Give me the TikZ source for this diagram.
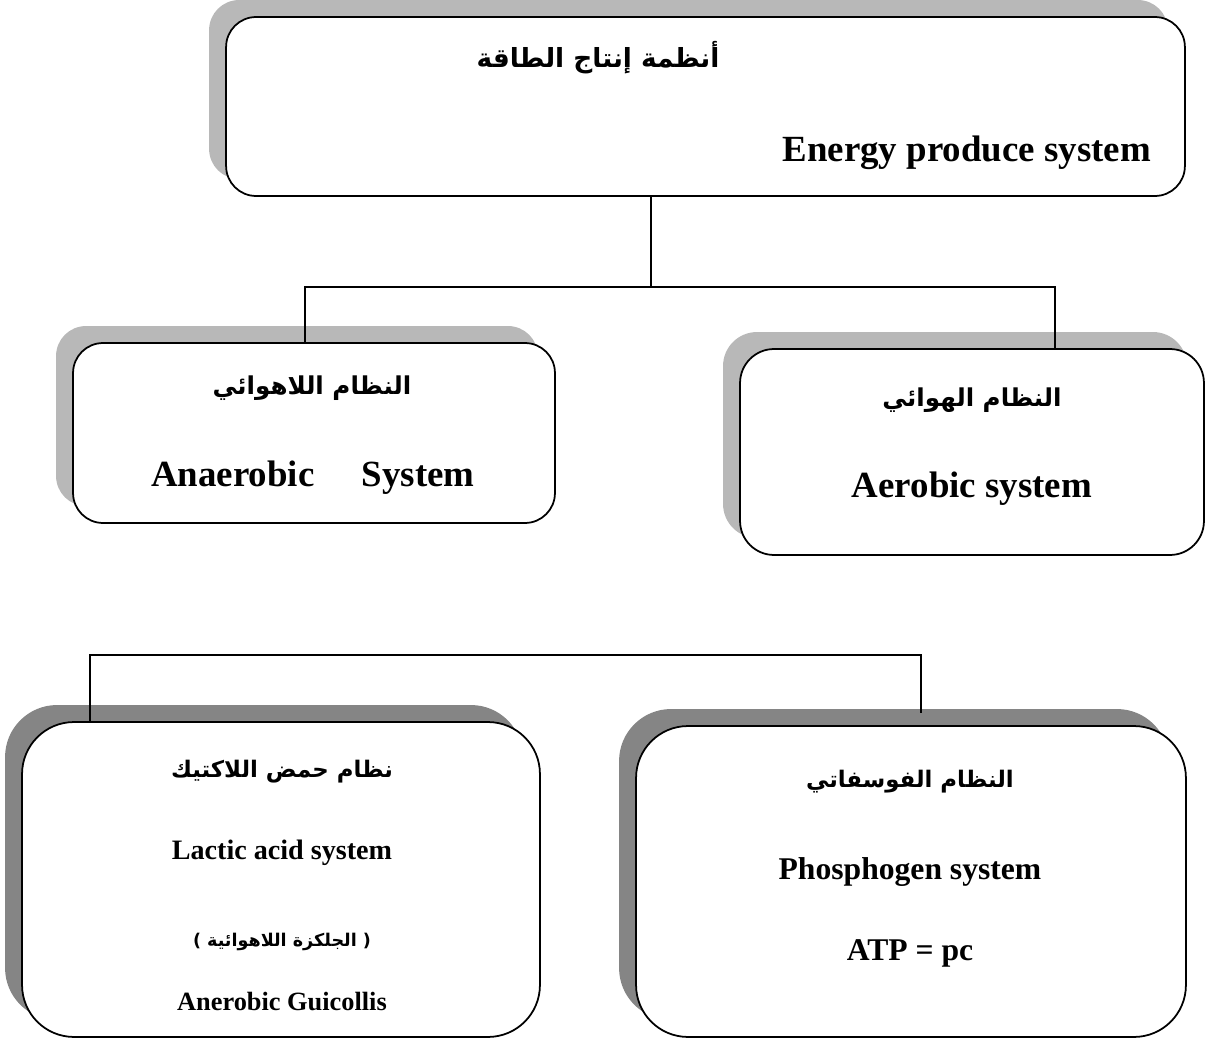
\documentclass[tikz,border=0pt]{standalone}
\usepackage{fontspec}
\setmainfont{Liberation Serif}
\newfontfamily\arabicfont[Script=Arabic]{DejaVu Sans}
\usetikzlibrary{shadows}
\TeXXeTstate=1
\newcommand{\artxt}[1]{{\arabicfont\bfseries\beginR #1\endR}}
\tikzset{
  sysbox/.style={draw, line width=1pt, fill=white, rounded corners=#1, inner sep=0pt},
  liteshade/.style={drop shadow={shadow xshift=-0.34cm, shadow yshift=0.34cm, fill=black!28, opacity=1}},
  darkshade/.style={drop shadow={shadow xshift=-0.34cm, shadow yshift=0.34cm, fill=black!48, opacity=1}},
  link/.style={line width=1.1pt},
  bigtxt/.style={font=\bfseries\fontsize{21}{25}\selectfont}
}

\begin{document}
\begin{tikzpicture}[x=0.02cm, y=-0.02cm]
		%%%%% START %%%%%
		\path[use as bounding box, clip] (0, 0) rectangle (1205, 1041);
		
		% boxes
		\node[sysbox=0.6cm, liteshade, minimum width=19.18cm, minimum height=3.58cm] (energy) at (705.5, 106.5) {};
		\node[sysbox=0.6cm, liteshade, minimum width=9.64cm, minimum height=3.6cm] (anaer) at (314, 433) {};
		\node[sysbox=0.68cm, liteshade, minimum width=9.28cm, minimum height=4.12cm] (aer) at (972, 452) {};
		\node[sysbox=1.04cm, darkshade, minimum width=10.36cm, minimum height=6.3cm] (lactic) at (281, 879.5) {};
		\node[sysbox=1.04cm, darkshade, minimum width=11cm, minimum height=6.22cm] (phos) at (911, 881.5) {};
		
		% texts
		\node (energyar) at (598, 58) {\fontsize{15}{18}\selectfont\artxt{أنظمة إنتاج الطاقة}};
		\node[bigtxt, anchor=east] (energyen) at (1157, 153) {Energy produce system};
		
		\node (anaerar) at (312, 388) {\fontsize{14}{17}\selectfont\artxt{النظام اللاهوائي}};
		\node[bigtxt] (anaeren) at (313, 478) {Anaerobic\hspace{27pt}System};
		
		\node (aerar) at (972, 400) {\fontsize{14}{17}\selectfont\artxt{النظام الهوائي}};
		\node[bigtxt] (aeren) at (972, 489) {Aerobic system};
		
		\node (lacticar) at (282, 772) {\fontsize{13}{16}\selectfont\artxt{نظام حمض اللاكتيك}};
		\node[font=\bfseries\fontsize{16}{19}\selectfont] (lacticen) at (282, 853) {Lactic acid system};
		\node (glycar) at (282, 942) {\fontsize{10}{12}\selectfont\artxt{( الجلكزة اللاهوائية )}};
		\node[font=\bfseries\fontsize{15}{18}\selectfont] (glycen) at (282, 1002) {Anerobic Guicollis};
		
		\node (phosar) at (910, 782) {\fontsize{13}{16}\selectfont\artxt{النظام الفوسفاتي}};
		\node[font=\bfseries\fontsize{18}{21}\selectfont] (phosen) at (910, 872) {Phosphogen system};
		\node[font=\bfseries\fontsize{18}{21}\selectfont] (atp) at (910, 953) {ATP = pc};
		
		% connectors
		\coordinate (top) at (651, 287);
		\coordinate (topl) at (305, 287);
		\coordinate (topr) at (1055, 287);
		\draw[link] (energy.south -| top) -- (top);
		\draw[link] (anaer.north -| topl) -- (topl) -- (topr) -- (aer.north -| topr);
		
		\coordinate (lowl) at (90, 655);
		\coordinate (lowr) at (921, 655);
		\draw[link, shorten >=0.24cm] (lactic.north -| lowl) -- (lowl) -- (lowr) -- (phos.north -| lowr);
		
		%%%%% END %%%%%
	\end{tikzpicture}
\end{document}
